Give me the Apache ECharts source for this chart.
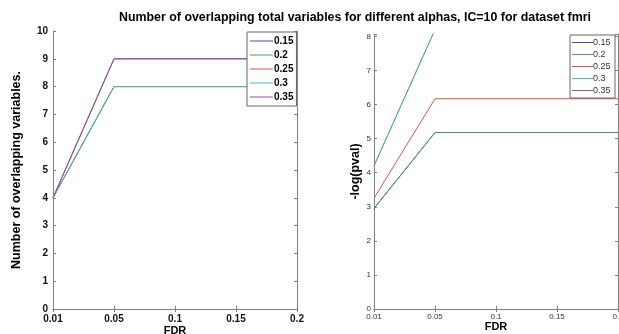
<!DOCTYPE html>
<html>
<head>
<meta charset="utf-8">
<script src="https://cdn.jsdelivr.net/npm/echarts@6/dist/echarts.min.js"></script>
<style>
  html, body { margin: 0; padding: 0; background: #fff; }
  #main { width: 619px; height: 334px; }
</style>
</head>
<body>
<div id="main"></div>
<script>
// FDR levels (evenly spaced on the x axis)
var fdr = ['0.01', '0.05', '0.1', '0.15', '0.2'];
var alphas = ['0.15', '0.2', '0.25', '0.3', '0.35'];
var colors = ['#4b4b9b', '#4f9f5f', '#d9534f', '#45bfbf', '#9b4f9f'];

// left: number of overlapping variables
var overlap015 = [4, 9, 9, 9, 9];
var overlap02 = [4, 8, 8, 8, 8];
var overlap025 = [4, 8, 8, 8, 8];
var overlap03 = [4, 8, 8, 8, 8];
var overlap035 = [4, 9, 9, 9, 9];

// right: -log(pval), 0.3 / 0.35 run off the top of the axes
var pval015 = [2.95, 5.18, 5.18, 5.18, 5.18];
var pval02 = [2.95, 5.18, 5.18, 5.18, 5.18];
var pval025 = [3.25, 6.17, 6.17, 6.17, 6.17];
var pval03 = [4.2, 8.2, 8.2, 8.2, 8.2];
var pval035 = [4.2, 8.2, 8.2, 8.2, 8.2];

var leftMax = 10;
var rightMax = 8.07;

var axisColor = '#808080';

function xAxes(gridIndex, labelStyle, nameGap) {
    return [{
        type: 'category', gridIndex: gridIndex, data: fdr, boundaryGap: false,
        position: 'bottom', z: 10,
        axisLine: { lineStyle: { color: axisColor } },
        axisTick: { inside: true, length: 3, lineStyle: { color: axisColor } },
        axisLabel: labelStyle,
        name: 'FDR', nameLocation: 'middle', nameGap: nameGap, nameMoveOverlap: false,
        nameTextStyle: { fontFamily: 'Liberation Sans', fontWeight: 'bold', fontSize: 11, color: '#000' }
    }, {
        type: 'category', gridIndex: gridIndex, data: fdr, boundaryGap: false,
        position: 'top', z: 10,
        axisLine: { lineStyle: { color: axisColor } },
        axisTick: { inside: true, length: 3, lineStyle: { color: axisColor } },
        axisLabel: { show: false }
    }];
}

function yAxes(gridIndex, max, labelStyle, name, nameGap) {
    return [{
        type: 'value', gridIndex: gridIndex, min: 0, max: max, interval: 1,
        position: 'left', z: 10,
        splitLine: { show: false },
        axisLine: { show: true, lineStyle: { color: axisColor } },
        axisTick: { show: true, inside: true, length: 3, lineStyle: { color: axisColor } },
        axisLabel: labelStyle,
        name: name, nameLocation: 'middle', nameGap: nameGap, nameMoveOverlap: false,
        nameTextStyle: { fontFamily: 'Liberation Sans', fontWeight: 'bold', fontSize: 12.5, color: '#000' }
    }, {
        type: 'value', gridIndex: gridIndex, min: 0, max: max, interval: 1,
        position: 'right', z: 10,
        splitLine: { show: false },
        axisLine: { show: true, lineStyle: { color: axisColor } },
        axisTick: { show: true, inside: true, length: 3, lineStyle: { color: axisColor } },
        axisLabel: { show: false }
    }];
}

function intLabel(v) {
    return Math.abs(v - Math.round(v)) < 1e-6 ? String(Math.round(v)) : '';
}

var leftLabel = {
    fontFamily: 'Liberation Sans', fontWeight: 'bold', fontSize: 10, color: '#111', margin: 5,
    formatter: intLabel
};
var leftXLabel = {
    fontFamily: 'Liberation Sans', fontWeight: 'bold', fontSize: 10, color: '#111', margin: 5
};
var rightLabel = {
    fontFamily: 'Liberation Sans', fontSize: 8, color: '#333', margin: 3,
    formatter: intLabel
};
var rightXLabel = {
    fontFamily: 'Liberation Sans', fontSize: 8, color: '#333', margin: 4
};

var leftData = [overlap015, overlap02, overlap025, overlap03, overlap035];
var rightData = [pval015, pval02, pval025, pval03, pval035];
// draw order for the right panel: 0.35 sits under 0.3
var rightZ = [2, 3, 4, 6, 5];

var series = [];
alphas.forEach(function (a, i) {
    series.push({
        name: a, type: 'line', xAxisIndex: 0, yAxisIndex: 0,
        data: leftData[i], showSymbol: false, symbol: 'none', clip: true,
        lineStyle: { width: 1, color: colors[i] }, itemStyle: { color: colors[i] },
        z: 2 + i
    });
});
alphas.forEach(function (a, i) {
    series.push({
        name: a + ' ', type: 'line', xAxisIndex: 2, yAxisIndex: 2,
        data: rightData[i], showSymbol: false, symbol: 'none', clip: true,
        lineStyle: { width: 1, color: colors[i] }, itemStyle: { color: colors[i] },
        z: rightZ[i]
    });
});

var option = {
    backgroundColor: '#fff',
    animation: false,
    title: {
        text: 'Number of overlapping total variables for different alphas, IC=10 for dataset fmri',
        left: 350, top: 7, textAlign: 'center',
        textStyle: { fontFamily: 'Liberation Sans', fontWeight: 'bold', fontSize: 12.4, color: '#000' }
    },
    legend: [{
        data: alphas,
        orient: 'vertical',
        left: 247, top: 32, z: 20,
        itemWidth: 23, itemHeight: 1, itemGap: 4,
        padding: [4, 3, 4, 3],
        backgroundColor: '#fff',
        borderColor: '#666', borderWidth: 1, borderRadius: 0,
        icon: 'rect',
        textStyle: { fontFamily: 'Liberation Sans', fontWeight: 'bold', fontSize: 10, color: '#000', padding: [0, 0, 0, -4] }
    }, {
        data: alphas.map(function (a) { return a + ' '; }),
        orient: 'vertical',
        left: 570, top: 35, z: 20,
        itemWidth: 21, itemHeight: 1, itemGap: 3,
        padding: [3, 2, 3, 2],
        backgroundColor: '#fff',
        borderColor: '#666', borderWidth: 1, borderRadius: 0,
        icon: 'rect',
        textStyle: { fontFamily: 'Liberation Sans', fontSize: 9, color: '#333', padding: [0, 0, 0, -5] }
    }],
    grid: [
        { left: 53, top: 31, width: 244, height: 278, outerBoundsMode: 'none', containLabel: false },
        { left: 374, top: 34, width: 244, height: 275, outerBoundsMode: 'none', containLabel: false }
    ],
    xAxis: xAxes(0, leftXLabel, 16).concat(xAxes(1, rightXLabel, 12)),
    yAxis: yAxes(0, leftMax, leftLabel, 'Number of overlapping variables.', 30)
        .concat(yAxes(1, rightMax, rightLabel, '-log(pval)', 12)),
    series: series
};

var chart = echarts.init(document.getElementById('main'));
chart.setOption(option);
</script>
</body>
</html>
